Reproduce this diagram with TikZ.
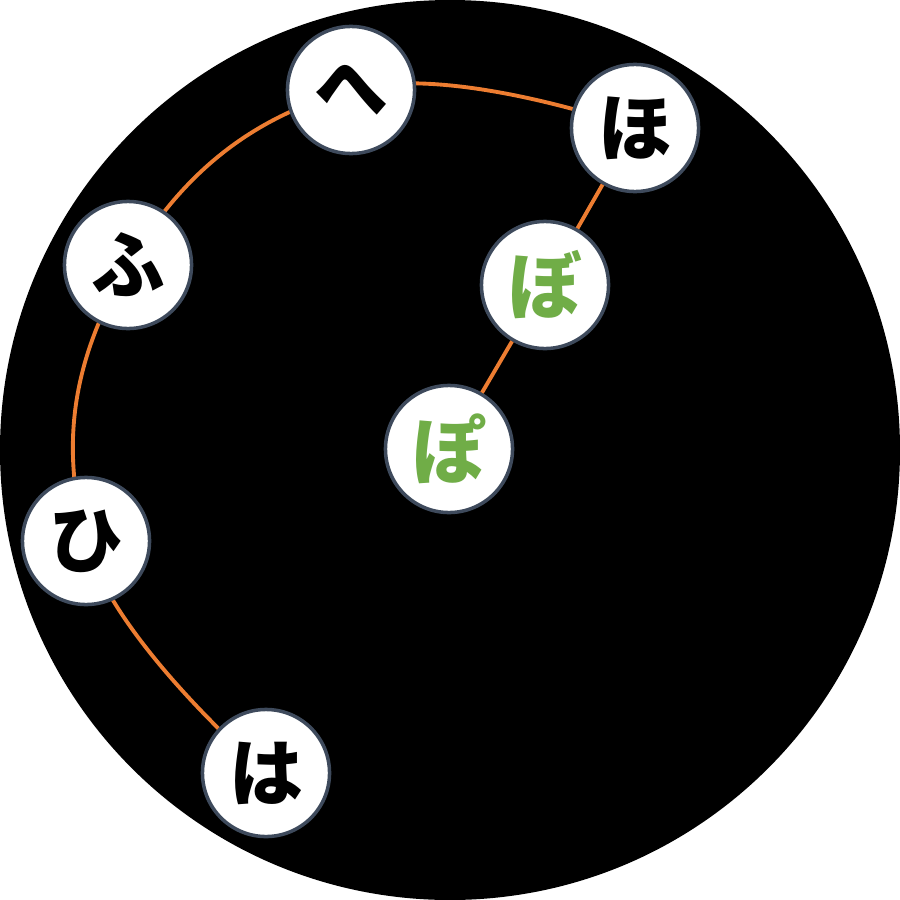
\documentclass[tikz,border=0pt]{standalone}
\usepackage{fontspec}
\newfontfamily\jpfont{Noto Sans CJK JP}
\definecolor{edgeor}{HTML}{ED7D31}
\definecolor{kgreen}{HTML}{70AD47}
\definecolor{rimc}{HTML}{3E4A5C}
\begin{document}
\begin{tikzpicture}[x=0.01cm,y=-0.01cm,
  kana/.style={circle,fill=white,draw=rimc,line width=1pt,minimum size=1.27cm,inner sep=0pt,
    font=\jpfont\bfseries\fontsize{21}{21}\selectfont},
  link/.style={draw=edgeor,line width=1.1pt}]
\useasboundingbox (0,0) rectangle (900,900);
\fill[black] (450,450) circle (450);
\coordinate (pha) at (266,773);
\coordinate (phi) at (86,541);
\coordinate (pfu) at (128,265);
\coordinate (phe) at (351,90);
\coordinate (pho) at (635,128);
\coordinate (pbo) at (545,285);
\coordinate (ppo) at (449,449);
\draw[link] plot[smooth,tension=0.72] coordinates {(pha) (phi) (pfu) (phe) (pho)};
\node[kana] (ha) at (pha) {は};
\node[kana] (hi) at (phi) {ひ};
\node[kana] (fu) at (pfu) {ふ};
\node[kana] (he) at (phe) {へ};
\node[kana] (ho) at (pho) {ほ};
\node[kana,text=kgreen] (bo) at (pbo) {ぼ};
\node[kana,text=kgreen] (po) at (ppo) {ぽ};
\draw[link] (ho) -- (bo);
\draw[link] (bo) -- (po);
\end{tikzpicture}
\end{document}
